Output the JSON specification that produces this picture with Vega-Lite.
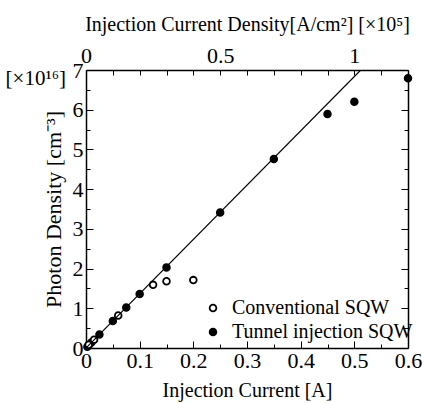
{
  "$schema": "https://vega.github.io/schema/vega-lite/v6.json",
  "width": 322,
  "height": 278,
  "autosize": "none",
  "padding": {"left": 86, "top": 70, "right": 15, "bottom": 55},
  "config": {
    "font": "Liberation Serif",
    "view": {"stroke": null},
    "axis": {
      "labelFont": "Liberation Serif",
      "titleFont": "Liberation Serif",
      "labelColor": "black",
      "titleColor": "black",
      "domainColor": "black",
      "tickColor": "black",
      "labelFontSize": 22,
      "titleFontSize": 20,
      "titleFontWeight": "normal",
      "grid": false,
      "domainWidth": 1.5,
      "tickWidth": 1
    }
  },
  "layer": [
    {
      "data": {
        "values": [
          {"current": 0.0025, "pd": 0.03, "series": "Tunnel injection SQW"},
          {"current": 0.005, "pd": 0.07, "series": "Tunnel injection SQW"},
          {"current": 0.01, "pd": 0.14, "series": "Tunnel injection SQW"},
          {"current": 0.025, "pd": 0.34, "series": "Tunnel injection SQW"},
          {"current": 0.05, "pd": 0.68, "series": "Tunnel injection SQW"},
          {"current": 0.075, "pd": 1.02, "series": "Tunnel injection SQW"},
          {"current": 0.1, "pd": 1.36, "series": "Tunnel injection SQW"},
          {"current": 0.15, "pd": 2.03, "series": "Tunnel injection SQW"},
          {"current": 0.25, "pd": 3.41, "series": "Tunnel injection SQW"},
          {"current": 0.35, "pd": 4.76, "series": "Tunnel injection SQW"},
          {"current": 0.45, "pd": 5.89, "series": "Tunnel injection SQW"},
          {"current": 0.5, "pd": 6.2, "series": "Tunnel injection SQW"},
          {"current": 0.6, "pd": 6.79, "series": "Tunnel injection SQW"},
          {"current": 0.005, "pd": 0.08, "series": "Conventional SQW"},
          {"current": 0.015, "pd": 0.21, "series": "Conventional SQW"},
          {"current": 0.06, "pd": 0.82, "series": "Conventional SQW"},
          {"current": 0.125, "pd": 1.59, "series": "Conventional SQW"},
          {"current": 0.15, "pd": 1.68, "series": "Conventional SQW"},
          {"current": 0.2, "pd": 1.71, "series": "Conventional SQW"}
        ]
      },
      "mark": {"type": "point", "filled": true, "stroke": "black", "strokeWidth": 1.8, "size": 45, "opacity": 1},
      "encoding": {
        "x": {
          "field": "current", "type": "quantitative",
          "scale": {"domain": [0, 0.6], "nice": false},
          "axis": {
            "orient": "bottom",
            "title": "Injection Current [A]",
            "values": [0, 0.05, 0.1, 0.15, 0.2, 0.25, 0.3, 0.35, 0.4, 0.45, 0.5, 0.55, 0.6],
            "labelExpr": "round(datum.value*20)%2==0 ? format(datum.value,'~g') : ''",
            "tickSize": {"condition": {"test": "round(datum.value*20)%2==0", "value": -7}, "value": -4},
            "labelPadding": 9,
            "titlePadding": 6,
            "labelFlush": false,
            "labelOverlap": false
          }
        },
        "y": {
          "field": "pd", "type": "quantitative",
          "scale": {"domain": [0, 7], "nice": false},
          "axis": {
            "orient": "left",
            "title": "Photon Density [cm⁻³]",
            "titleFontSize": 22,
            "values": [0, 0.5, 1, 1.5, 2, 2.5, 3, 3.5, 4, 4.5, 5, 5.5, 6, 6.5, 7],
            "labelExpr": "round(datum.value*2)%2==0 ? format(datum.value,'~g') : ''",
            "tickSize": {"condition": {"test": "round(datum.value*2)%2==0", "value": -7}, "value": -4},
            "labelPadding": 10,
            "titlePadding": 7,
            "labelFlush": false,
            "labelOverlap": false
          }
        },
        "fill": {
          "field": "series", "type": "nominal",
          "scale": {"domain": ["Conventional SQW", "Tunnel injection SQW"], "range": ["white", "black"]},
          "legend": {
            "orient": "none",
            "legendX": 117,
            "legendY": 228,
            "title": null,
            "labelFont": "Liberation Serif",
            "labelFontSize": 20,
            "labelColor": "black",
            "symbolStrokeColor": "black",
            "symbolStrokeWidth": 1.8,
            "symbolSize": 45,
            "symbolType": "circle",
            "rowPadding": 4,
            "labelOffset": 9,
            "labelLimit": 300
          }
        }
      }
    },
    {
      "data": {"values": [{"current": 0, "pd": 0}, {"current": 0.512, "pd": 7}]},
      "mark": {"type": "line", "color": "black", "strokeWidth": 1.2, "clip": true},
      "encoding": {
        "x": {
          "field": "current", "type": "quantitative",
          "axis": {
            "orient": "top",
            "title": "Injection Current Density[A/cm²] [×10⁵]",
            "values": [0, 0.05, 0.1, 0.15, 0.2, 0.25, 0.3, 0.35, 0.4, 0.45, 0.5, 0.55, 0.6],
            "labelExpr": "datum.value==0 ? '0' : (abs(datum.value-0.25)<0.001 ? '0.5' : (abs(datum.value-0.5)<0.001 ? '1' : ''))",
            "tickSize": -5,
            "labelPadding": 8,
            "titlePadding": 10,
            "labelFlush": false,
            "labelOverlap": false
          }
        },
        "y": {
          "field": "pd", "type": "quantitative",
          "axis": {
            "orient": "right",
            "title": null,
            "values": [0, 0.5, 1, 1.5, 2, 2.5, 3, 3.5, 4, 4.5, 5, 5.5, 6, 6.5, 7],
            "labels": false,
            "tickSize": {"condition": {"test": "round(datum.value*2)%2==0", "value": -7}, "value": -4}
          }
        }
      }
    },
    {
      "data": {"values": [{"label": "[×10¹⁶]"}]},
      "mark": {"type": "text", "font": "Liberation Serif", "fontSize": 21, "align": "right", "baseline": "middle", "dx": -20, "dy": 9, "color": "black"},
      "encoding": {
        "x": {"datum": 0, "type": "quantitative", "axis": null},
        "y": {"datum": 7, "type": "quantitative", "axis": null},
        "text": {"field": "label"}
      }
    }
  ],
  "resolve": {"axis": {"x": "independent", "y": "independent"}}
}
